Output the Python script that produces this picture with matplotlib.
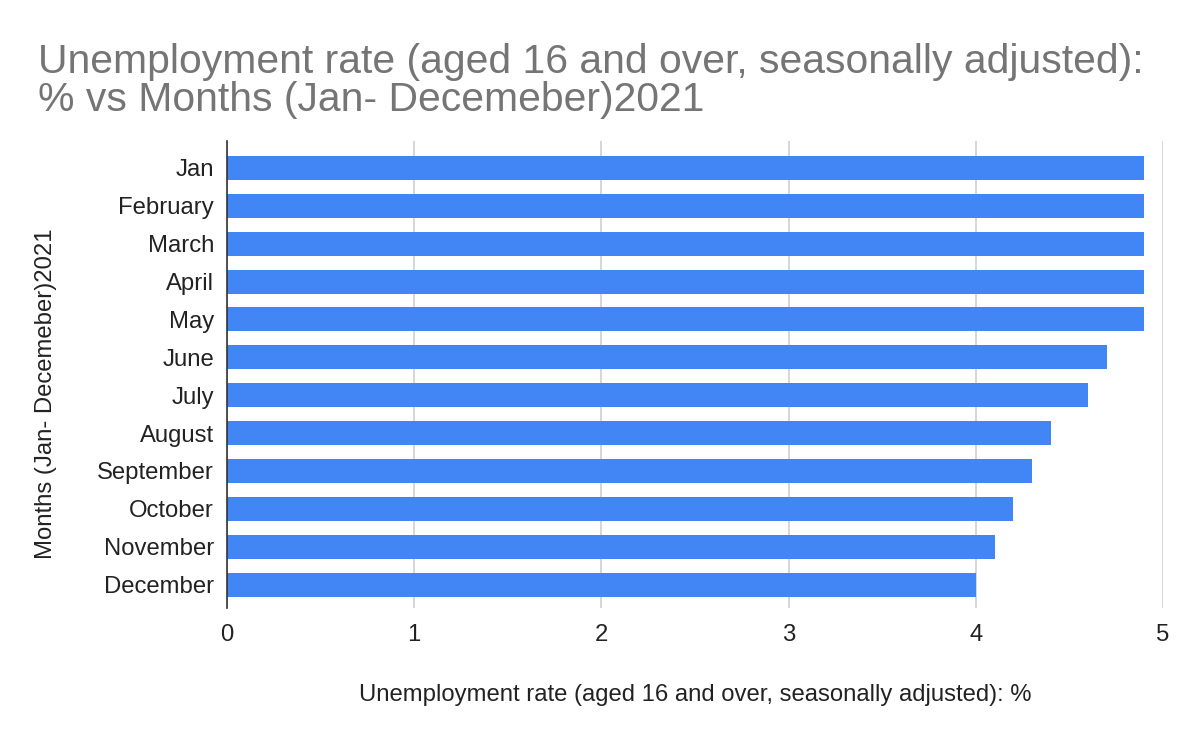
import matplotlib.pyplot as plt

months = ["Jan", "February", "March", "April", "May", "June", "July",
          "August", "September", "October", "November", "December"]
rates = [4.9, 4.9, 4.9, 4.9, 4.9, 4.7, 4.6, 4.4, 4.3, 4.2, 4.1, 4.0]
xticks = [0, 1, 2, 3, 4, 5]

plt.rcParams['font.family'] = ['Liberation Sans', 'DejaVu Sans']

W, H = 1200, 742
fig = plt.figure(figsize=(12, 7.42), dpi=100)
ax = fig.add_axes([227 / W, 1 - 608 / H, (1163 - 227) / W, (608 - 141) / H])

ypos = list(range(len(months)))
ax.barh(ypos, rates, height=0.634, color='#4285f4', zorder=3)
ax.set_ylim(len(months) - 1 + 0.62, -0.71)
ax.set_xlim(0, 5)
ax.set_yticks(ypos)
ax.set_yticklabels(months, fontsize=17.2, color='#222222')
ax.set_xticks(xticks)
ax.set_xticklabels([str(t) for t in xticks], fontsize=17.2, color='#222222')
ax.tick_params(axis='y', length=0, pad=9.4)
ax.tick_params(axis='x', length=0, pad=11.7)
ax.grid(axis='x', color='#cccccc', linewidth=1.1, zorder=0)
for s in ['top', 'right', 'bottom']:
    ax.spines[s].set_visible(False)
ax.spines['left'].set_color('#333333')
ax.spines['left'].set_linewidth(1.2)
ax.spines['left'].set_zorder(4)

ax.set_xlabel("Unemployment rate (aged 16 and over, seasonally adjusted): %",
              fontsize=17.2, color='#222222', labelpad=27)

fig.text(46 / W, 1 - 394 / H, "Months (Jan- Decemeber)2021", fontsize=17.2,
         color='#222222', rotation=90, ha='center', va='center')

fig.text(38 / W, 1 - 43 / H,
         "Unemployment rate (aged 16 and over, seasonally adjusted):\n% vs Months (Jan- Decemeber)2021",
         fontsize=29.4, color='#757575', va='top', ha='left', linespacing=1.0)

fig.savefig('out.png', dpi=100, facecolor='white')
